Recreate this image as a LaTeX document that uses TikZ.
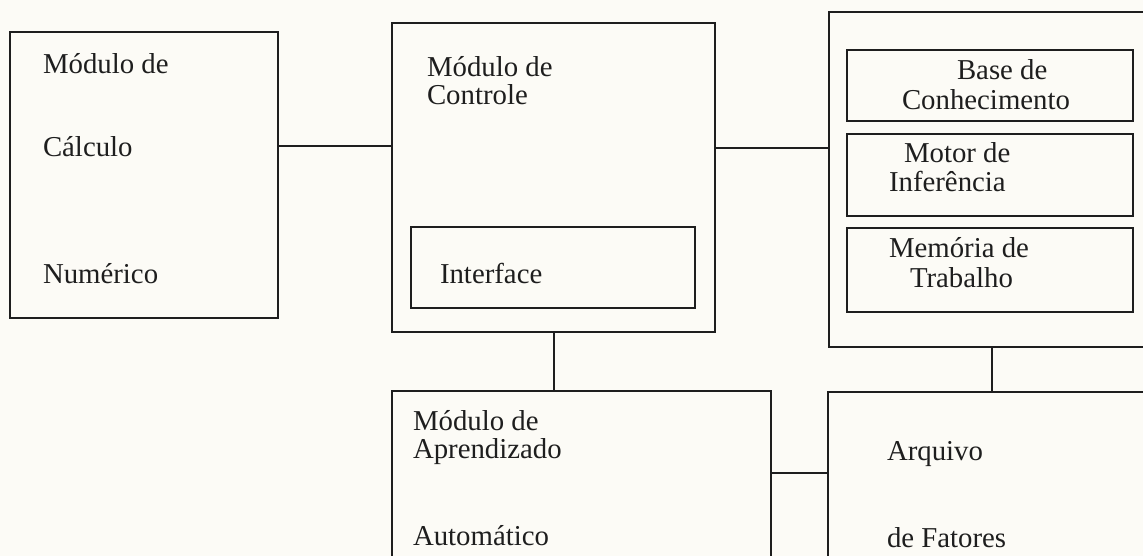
\documentclass[tikz,border=0pt]{standalone}
\usepackage{fontspec}
\setmainfont{Liberation Serif}
\definecolor{paper}{HTML}{FCFBF6}
\definecolor{ink}{HTML}{1E1E1E}
\begin{document}
\begin{tikzpicture}[x=1pt,y=-1pt,
  box/.style={draw=ink, line width=1.8pt, inner sep=0pt, outer sep=0pt, anchor=north west},
  lbl/.style={anchor=base west, inner sep=0pt, outer sep=0pt, text=ink, font=\fontsize{28.8}{30}\selectfont},
  link/.style={draw=ink, line width=1.8pt}]
\useasboundingbox (0,0) rectangle (1143,556);
\clip (0,0) rectangle (1143,556);
\fill[paper] (0,0) rectangle (1143,556);
% boxes
\node[box, minimum width=268pt, minimum height=286pt] (b1) at (10,32) {};
\node[box, minimum width=323pt, minimum height=309pt] (b2) at (392,23) {};
\node[box, minimum width=284pt, minimum height=81pt] (iface) at (411,227) {};
\node[box, minimum width=340pt, minimum height=335pt] (b3) at (829,12) {};
\node[box, minimum width=286pt, minimum height=71pt] (kb) at (847,50) {};
\node[box, minimum width=286pt, minimum height=82pt] (mi) at (847,134) {};
\node[box, minimum width=286pt, minimum height=84pt] (mt) at (847,228) {};
\node[box, minimum width=379pt, minimum height=200pt] (b4) at (392,391) {};
\node[box, minimum width=340pt, minimum height=200pt] (b5) at (828,392) {};
% connectors
\draw[link] (b1.east |- {0,146}) -- (b2.west |- {0,146});
\draw[link] (b2.east |- {0,148}) -- (b3.west |- {0,148});
\draw[link] (b2.south -| {554,0}) -- (b4.north -| {554,0});
\draw[link] (b3.south -| {992,0}) -- (b5.north -| {992,0});
\draw[link] (b4.east |- {0,473}) -- (b5.west |- {0,473});
% labels
\node[lbl] (t1a) at (43,74) {Módulo de};
\node[lbl] (t1b) at (43,157) {Cálculo};
\node[lbl] (t1c) at (43,283) {Numérico};
\node[lbl] (t2a) at (427,77) {Módulo de};
\node[lbl] (t2b) at (427,105) {Controle};
\node[lbl] (tif) at (440,283) {Interface};
\node[lbl] (tkb1) at (957,80) {Base de};
\node[lbl] (tkb2) at (902,110) {Conhecimento};
\node[lbl] (tmi1) at (904,163) {Motor de};
\node[lbl] (tmi2) at (889,192) {Inferência};
\node[lbl] (tmt1) at (889,257) {Memória de};
\node[lbl] (tmt2) at (910,287) {Trabalho};
\node[lbl] (t4a) at (413,430) {Módulo de};
\node[lbl] (t4b) at (413,458) {Aprendizado};
\node[lbl] (t4c) at (413,545) {Automático};
\node[lbl] (t5a) at (887,460) {Arquivo};
\node[lbl] (t5b) at (887,547) {de Fatores};
\end{tikzpicture}
\end{document}
